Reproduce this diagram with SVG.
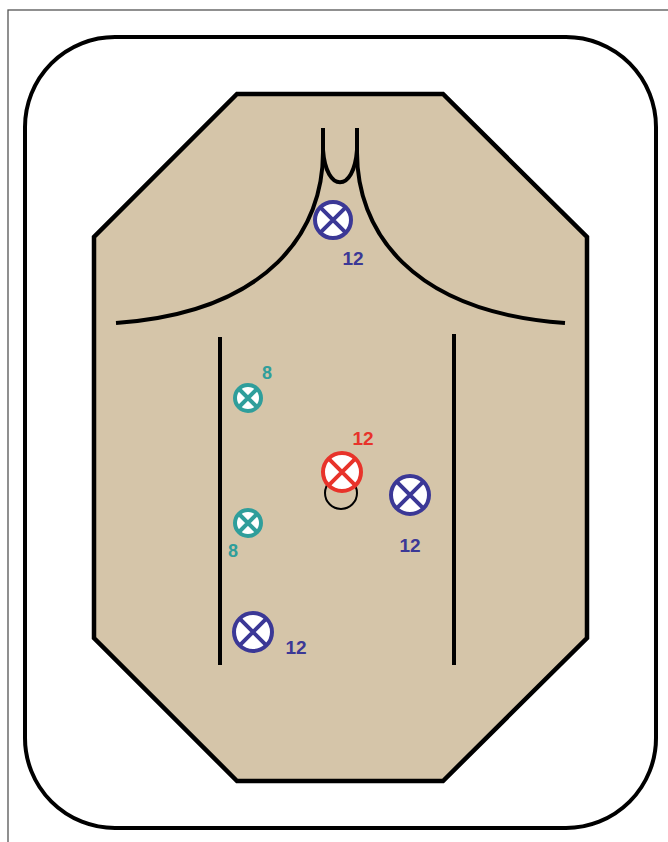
<svg xmlns="http://www.w3.org/2000/svg" width="668" height="842" viewBox="0 0 668 842">
<style>
.ln{fill:none;stroke:#000;stroke-width:4;stroke-linecap:butt}
.sym{fill:#fff;stroke-width:4}
.blue{stroke:#3b3896}
.red{stroke:#e8332a}
.teal{stroke:#2f9e9b}
.lbl{font-family:"Liberation Sans",Arial,sans-serif;font-weight:bold;text-anchor:middle}
</style>
<rect x="0" y="0" width="668" height="842" fill="#fff"/>
<rect x="8" y="10" width="680" height="850" fill="none" stroke="#555" stroke-width="1.3"/>
<rect x="25" y="37" width="631" height="791" rx="90" ry="90" fill="#fff" stroke="#000" stroke-width="4"/>
<g id="body">
<polygon points="237,94 443,94 587,237 587,638 443,781 237,781 94,638 94,237" fill="#d5c5a9" stroke="#000" stroke-width="4.5" stroke-linejoin="miter"/>
<path class="ln" d="M323,128 L323,150 C324,230 270,312 116,323"/>
<path class="ln" d="M357,128 L357,150 C356,230 410,312 565,323"/>
<path class="ln" d="M323,128 L323,150 C326,193 354,193 357,150 L357,128"/>
<line class="ln" x1="220" y1="337" x2="220" y2="665" stroke-width="3.5"/>
<line class="ln" x1="454" y1="334" x2="454" y2="665" stroke-width="3.5"/>
</g>
<g id="n-top">
<circle class="sym blue" cx="333" cy="220" r="18"/>
<path class="ln blue" d="M320.3,207.3 L345.7,232.7 M345.7,207.3 L320.3,232.7"/>
<text class="lbl" x="353" y="265" font-size="19" fill="#3b3896">12</text>
</g>
<g id="n-teal1">
<circle class="sym teal" cx="248" cy="398" r="13" stroke-width="4.5"/>
<path class="ln teal" d="M239,389 L257,407 M257,389 L239,407"/>
<text class="lbl" x="267" y="379" font-size="18" fill="#2f9e9b">8</text>
</g>
<g id="n-teal2">
<circle class="sym teal" cx="248" cy="523" r="13" stroke-width="4.5"/>
<path class="ln teal" d="M239,514 L257,532 M257,514 L239,532"/>
<text class="lbl" x="233" y="557" font-size="18" fill="#2f9e9b">8</text>
</g>
<g id="n-red">
<circle cx="341" cy="493" r="16" fill="none" stroke="#000" stroke-width="2"/>
<circle class="sym red" cx="342" cy="472" r="19"/>
<path class="ln red" d="M328.9,458.9 L355.1,485.1 M355.1,458.9 L328.9,485.1"/>
<text class="lbl" x="363" y="445" font-size="19" fill="#e8332a">12</text>
</g>
<g id="n-right">
<circle class="sym blue" cx="410" cy="495" r="19"/>
<path class="ln blue" d="M396.9,481.9 L423.1,508.1 M423.1,481.9 L396.9,508.1"/>
<text class="lbl" x="410" y="552" font-size="19" fill="#3b3896">12</text>
</g>
<g id="n-bottom">
<circle class="sym blue" cx="253" cy="632" r="19"/>
<path class="ln blue" d="M239.9,618.9 L266.1,645.1 M266.1,618.9 L239.9,645.1"/>
<text class="lbl" x="296" y="654" font-size="19" fill="#3b3896">12</text>
</g>
</svg>
